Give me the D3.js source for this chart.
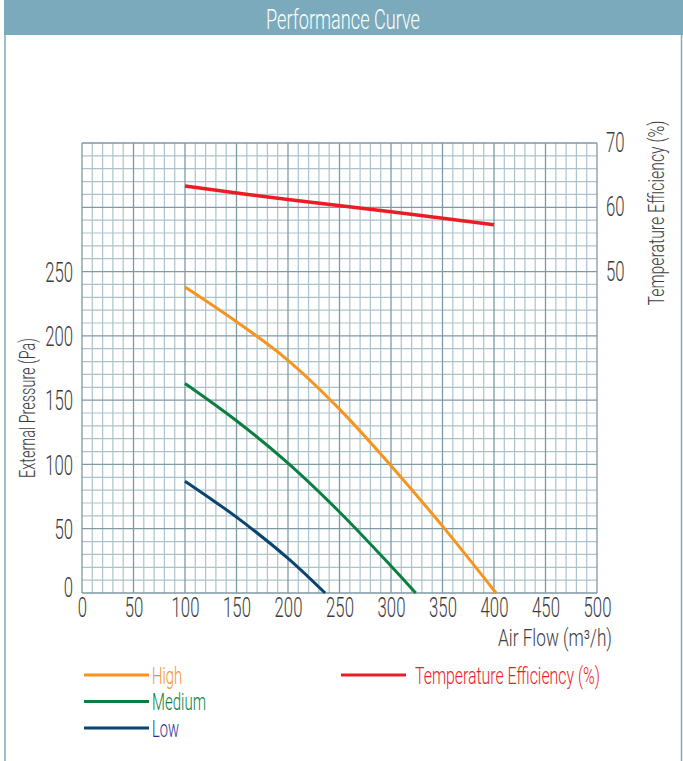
<!DOCTYPE html>
<html>
<head>
<meta charset="utf-8">
<script src="https://cdn.jsdelivr.net/npm/d3@7"></script>
<style>
  html, body { margin: 0; padding: 0; background: #fff; }
  svg { display: block; }
  text { font-family: Roboto, "Open Sans", "Liberation Sans", sans-serif; font-weight: 300; }
</style>
</head>
<body>
<svg id="chart" width="683" height="761"></svg>
<script>
// ---- Data ----
const flowTicks = [0, 50, 100, 150, 200, 250, 300, 350, 400, 450, 500];
const pressureTicks = [0, 50, 100, 150, 200, 250];
const efficiencyTicks = [50, 60, 70];

const highFlow = [100, 150, 200, 250, 300, 350, 402];
const highPressure = [238, 211, 181, 143, 99, 52, 0];

const mediumFlow = [100, 150, 200, 250, 300, 324];
const mediumPressure = [163, 134, 101, 63, 21, 0];

const lowFlow = [100, 150, 200, 236];
const lowPressure = [87, 59, 27, 0];

const effFlow = [100, 200, 300, 400];
const effValues = [63.3, 61.2, 59.3, 57.3];

const seriesNames = ["High", "Medium", "Low"];
const titleText = "Performance Curve";
const xTitle = "Air Flow (m³/h)";
const yTitle = "External Pressure (Pa)";
const y2Title = "Temperature Efficiency (%)";

// ---- Styles ----
const colors = { High: "#f7941d", Medium: "#0b7f3f", Low: "#0c4470", Eff: "#ec1c24" };
const textColors = { High: "#f7941d", Medium: "#0b7f3f", Low: "#2e3192", Eff: "#ec1c24" };
const barColor = "#7aaabb";
const minorGrid = "#adc3cc";
const majorGrid = "#7f99a5";
const labelColor = "#3d3d3d";
const SX = 0.62;

const svg = d3.select("#chart");

// condensed text helper: fits the text to a target width by horizontal scaling
function condensed(parent, tx, ty, rot, str, size, fill, anchor, width) {
  const g = parent.append("g").attr("transform", `translate(${tx},${ty}) rotate(${rot})`);
  const t = g.append("text").attr("text-anchor", anchor).attr("fill", fill)
    .style("font-size", size + "px").text(str);
  const len = t.node().getComputedTextLength() || 1;
  t.attr("transform", `scale(${width / len},1)`);
  return t;
}

// frame + title bar
svg.append("rect").attr("x", 4).attr("y", 0).attr("width", 679).attr("height", 35).attr("fill", barColor);
svg.append("line").attr("x1", 5).attr("x2", 5).attr("y1", 35).attr("y2", 761).attr("stroke", barColor).attr("stroke-width", 1.5);
svg.append("line").attr("x1", 681.5).attr("x2", 681.5).attr("y1", 35).attr("y2", 761).attr("stroke", barColor).attr("stroke-width", 1.5);
condensed(svg, 343, 29, 0, titleText, 28, "#fff", "middle", 154);

// scales
const x = d3.scaleLinear().domain([0, 500]).range([82, 597]);
const y = d3.scaleLinear().domain([0, 350]).range([593, 143]);
const y2 = d3.scaleLinear().domain([50, 70]).range([y(250), y(350)]);

// grid
const grid = svg.append("g");
const vMinor = d3.range(0, 501, 10);
const hMinor = d3.range(0, 351, 10);
grid.selectAll(".vm").data(vMinor.filter(d => d % 50 !== 0)).join("line")
  .attr("x1", d => x(d)).attr("x2", d => x(d)).attr("y1", y(0)).attr("y2", y(350))
  .attr("stroke", minorGrid).attr("stroke-width", 1.2);
grid.selectAll(".hm").data(hMinor.filter(d => d % 50 !== 0)).join("line")
  .attr("y1", d => y(d)).attr("y2", d => y(d)).attr("x1", x(0)).attr("x2", x(500))
  .attr("stroke", minorGrid).attr("stroke-width", 1.2);
grid.selectAll(".vM").data(vMinor.filter(d => d % 50 === 0)).join("line")
  .attr("x1", d => x(d)).attr("x2", d => x(d)).attr("y1", y(0)).attr("y2", y(350))
  .attr("stroke", majorGrid).attr("stroke-width", 1.3);
grid.selectAll(".hM").data(hMinor.filter(d => d % 50 === 0)).join("line")
  .attr("y1", d => y(d)).attr("y2", d => y(d)).attr("x1", x(0)).attr("x2", x(500))
  .attr("stroke", majorGrid).attr("stroke-width", 1.3);

// axes (labels only)
function styleAxis(g) {
  g.select(".domain").remove();
  g.selectAll(".tick line").remove();
  g.selectAll(".tick text").attr("fill", labelColor).style("font-size", "27px")
    .style("font-family", "Roboto, 'Open Sans', sans-serif").style("font-weight", 300);
}
const xAxis = svg.append("g").attr("transform", `translate(0,${y(0)})`)
  .call(d3.axisBottom(x).tickValues(flowTicks).tickSize(0).tickPadding(5));
styleAxis(xAxis);
xAxis.selectAll(".tick text").attr("transform", `scale(${SX},1)`);

const yAxis = svg.append("g").attr("transform", `translate(${x(0)},0)`)
  .call(d3.axisLeft(y).tickValues(pressureTicks).tickSize(0).tickPadding(9 / SX));
styleAxis(yAxis);
yAxis.selectAll(".tick text").attr("transform", d => `translate(0,${d === 0 ? -5 : 1}) scale(${SX},1)`);

const y2Axis = svg.append("g").attr("transform", `translate(${x(500)},0)`)
  .call(d3.axisRight(y2).tickValues(efficiencyTicks).tickSize(0).tickPadding(9 / SX));
styleAxis(y2Axis);
y2Axis.selectAll(".tick text").attr("transform", `scale(${SX},1)`);

// axis titles
condensed(svg, 612, 646, 0, xTitle, 23, labelColor, "end", 114);
condensed(svg, 35, 408, -90, yTitle, 22, labelColor, "middle", 140);
condensed(svg, 664, 213, -90, y2Title, 22, labelColor, "middle", 185);

// curves
const line = d3.line().x(d => x(d[0])).y(d => y(d[1])).curve(d3.curveCatmullRom.alpha(0.5));
const effLine = d3.line().x(d => x(d[0])).y(d => y2(d[1])).curve(d3.curveCatmullRom.alpha(0.5));
const series = [
  { name: "High", pts: d3.zip(highFlow, highPressure) },
  { name: "Medium", pts: d3.zip(mediumFlow, mediumPressure) },
  { name: "Low", pts: d3.zip(lowFlow, lowPressure) }
];
svg.selectAll(".curve").data(series).join("path")
  .attr("d", d => line(d.pts)).attr("fill", "none")
  .attr("stroke", d => colors[d.name]).attr("stroke-width", 3);
svg.append("path").attr("d", effLine(d3.zip(effFlow, effValues))).attr("fill", "none")
  .attr("stroke", colors.Eff).attr("stroke-width", 3.5);

// legend
const legendLengths = { High: 30, Medium: 54, Low: 27 };
const leg = svg.append("g");
seriesNames.forEach((n, i) => {
  const cy = 675 + i * 26.5;
  leg.append("line").attr("x1", 84).attr("x2", 149).attr("y1", cy).attr("y2", cy)
    .attr("stroke", colors[n]).attr("stroke-width", 3);
  condensed(leg, 152, cy + 8.5, 0, n, 24, textColors[n], "start", legendLengths[n]);
});
leg.append("line").attr("x1", 341).attr("x2", 406).attr("y1", 675).attr("y2", 675)
  .attr("stroke", colors.Eff).attr("stroke-width", 3);
condensed(leg, 415, 683.5, 0, y2Title, 24, textColors.Eff, "start", 185);
</script>
</body>
</html>
